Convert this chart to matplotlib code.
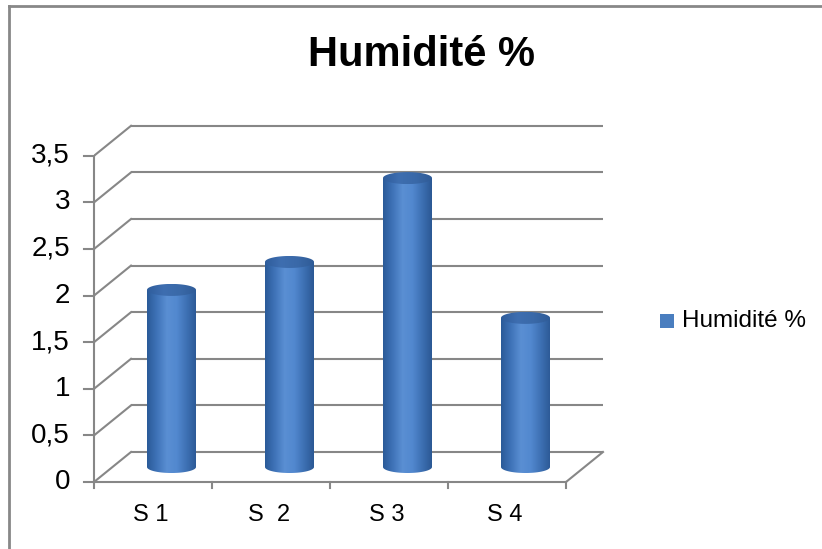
import numpy as np
import matplotlib.pyplot as plt
from matplotlib.patches import Polygon, Rectangle
from matplotlib.lines import Line2D
from matplotlib.colors import LinearSegmentedColormap

plt.rcParams['font.family'] = ['Liberation Sans', 'DejaVu Sans']

# Data
categories = ["S 1", "S  2", "S 3", "S 4"]
values = [1.9, 2.2, 3.1, 1.6]
series_name = "Humidité %"
y_ticks = [0, 0.5, 1, 1.5, 2, 2.5, 3, 3.5]
y_tick_labels = ["0", "0,5", "1", "1,5", "2", "2,5", "3", "3,5"]

W, H = 822, 549
fig = plt.figure(figsize=(W / 100, H / 100), dpi=100)
fig.patch.set_facecolor("white")

# Plot area in pixels (front plane origin and scales)
x0_px, y0_px = 94, 482          # front-plane origin
cat_px = 118                    # pixels per category
val_px = 93.2                   # pixels per value unit
DX = 37 / cat_px                # depth offset in category units
DY = 30 / val_px                # depth offset in value units

ax_left_px, ax_right_px = 94, 612
ax_top_px, ax_bot_px = 118, 494
ax = fig.add_axes([ax_left_px / W, 1 - ax_bot_px / H,
                   (ax_right_px - ax_left_px) / W, (ax_bot_px - ax_top_px) / H])
ax.set_xlim((ax_left_px - x0_px) / cat_px, (ax_right_px - x0_px) / cat_px)
ax.set_ylim(-(ax_bot_px - y0_px) / val_px, (y0_px - ax_top_px) / val_px)
ax.axis("off")

n = len(categories)
grid_c = "#878787"
lw = 1.5

# Back wall gridlines and side-wall diagonals
for v in y_ticks:
    ax.plot([DX, n + DX], [v + DY, v + DY], color=grid_c, lw=lw, zorder=1,
            solid_capstyle="butt")
    ax.plot([0, DX], [v, v + DY], color=grid_c, lw=lw, zorder=1)
# Floor: right diagonal and front edge
ax.plot([n, n + DX], [0, DY], color=grid_c, lw=lw, zorder=1)
ax.plot([0, n], [0, 0], color=grid_c, lw=lw, zorder=1, clip_on=False)
# Front value axis
ax.plot([0, 0], [0, y_ticks[-1]], color=grid_c, lw=lw, zorder=1, clip_on=False)
tick_len_x = 10 / cat_px
tick_len_y = 6 / val_px
for v, lab in zip(y_ticks, y_tick_labels):
    ax.plot([-tick_len_x, 0], [v, v], color=grid_c, lw=lw, clip_on=False)
    ax.text(-24 / cat_px, v, lab, ha="right", va="center", fontsize=20,
            color="black")
for i in range(n + 1):
    ax.plot([i, i], [0, -tick_len_y], color=grid_c, lw=lw, clip_on=False)
for i, lab in enumerate(categories):
    ax.text(i + 0.5 - 2 / cat_px, -33 / val_px, lab, ha="center", va="center",
            fontsize=17, color="black")

# Cylinders
cyl_w = 49 / cat_px
ell_h = 12 / val_px
body_cmap = LinearSegmentedColormap.from_list(
    "body", ["#2a5a98", "#3f73b8", "#5a8fd3", "#5288cf", "#3d70b3", "#2b5894"])
top_cmap = LinearSegmentedColormap.from_list(
    "top", ["#2f5d9c", "#3e6eb0", "#3a69a8", "#2f5b97"])
grad = np.linspace(0, 1, 256).reshape(1, -1)

t = np.linspace(0, np.pi, 60)
for i, v in enumerate(values):
    cx = i + 0.5 + DX / 2
    by = DY / 2
    ty = v + DY / 2
    hw = cyl_w / 2
    hh = ell_h / 2
    # body outline: top edge straight, bottom half-ellipse
    top_pts = [(cx - hw, ty), (cx + hw, ty)]
    bot_pts = list(zip(cx + hw * np.cos(t), by - hh * np.sin(t)))
    body = Polygon(top_pts + bot_pts, closed=True, transform=ax.transData,
                   facecolor="none", edgecolor="none")
    ax.add_patch(body)
    im = ax.imshow(grad, cmap=body_cmap, aspect="auto",
                   extent=[cx - hw, cx + hw, by - hh, ty], zorder=3,
                   interpolation="bilinear")
    im.set_clip_path(body)
    # top ellipse
    tt = np.linspace(0, 2 * np.pi, 120)
    top = Polygon(list(zip(cx + hw * np.cos(tt), ty + hh * np.sin(tt))),
                  closed=True, transform=ax.transData, facecolor="none",
                  edgecolor="none")
    ax.add_patch(top)
    im2 = ax.imshow(grad, cmap=top_cmap, aspect="auto",
                    extent=[cx - hw, cx + hw, ty - hh, ty + hh], zorder=4,
                    interpolation="bilinear")
    im2.set_clip_path(top)

# Title
fig.text(421 / W, 1 - 55 / H, series_name, ha="center", va="center",
         fontsize=30, fontweight="bold", color="black")

# Legend
fig.patches.append(Rectangle((660 / W, 1 - 328 / H), 14 / W, 14 / H,
                             transform=fig.transFigure, facecolor="#4a7ebf",
                             edgecolor="none"))
fig.text(682 / W, 1 - 321 / H, series_name, ha="left", va="center",
         fontsize=17.5, color="black")

# Chart border (top and left edges visible)
fig.lines.append(Line2D([9 / W, 1], [1 - 6 / H, 1 - 6 / H],
                        transform=fig.transFigure, color="#888888", lw=2))
fig.lines.append(Line2D([9 / W, 9 / W], [0, 1 - 6 / H],
                        transform=fig.transFigure, color="#888888", lw=2))

fig.savefig("out.png", dpi=100, facecolor="white")
